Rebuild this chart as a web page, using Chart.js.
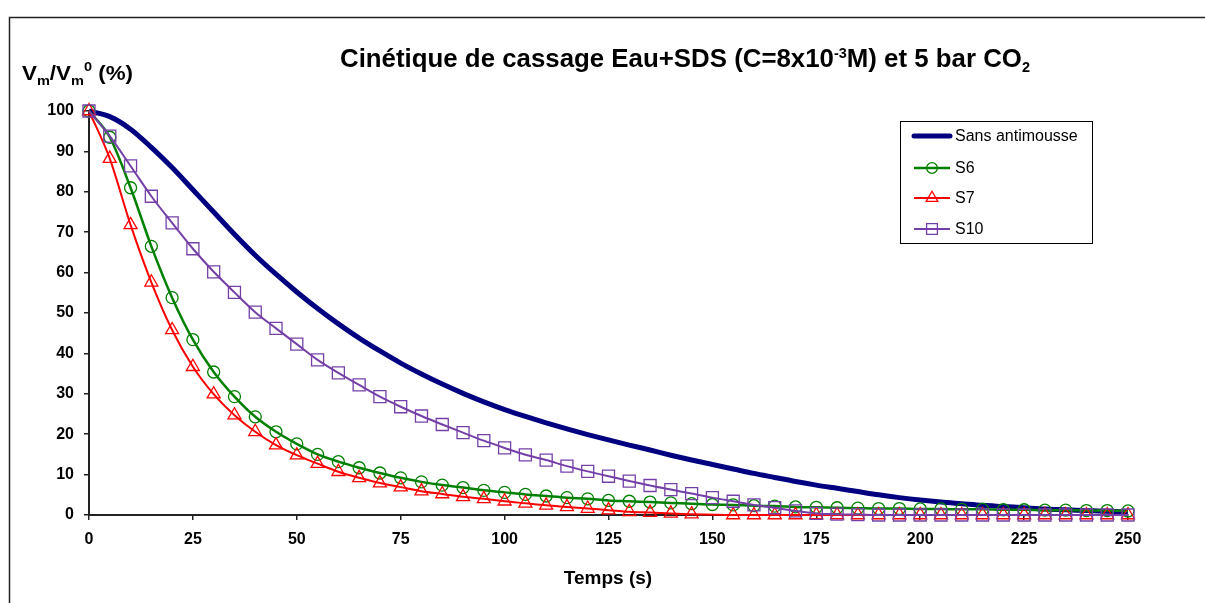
<!DOCTYPE html>
<html>
<head>
<meta charset="utf-8">
<script src="https://cdn.jsdelivr.net/npm/chart.js@4.4.1/dist/chart.umd.min.js"></script>
<style>
  html, body { margin: 0; padding: 0; background: #fff; }
  #wrap { width: 1205px; height: 603px; }
</style>
</head>
<body>
<div id="wrap"><canvas id="chart" width="1205" height="603"></canvas></div>
<script>
// Time (s)
const times = [0, 5, 10, 15, 20, 25, 30, 35, 40, 45, 50, 55, 60, 65, 70, 75, 80, 85, 90, 95,
    100, 105, 110, 115, 120, 125, 130, 135, 140, 145, 150, 155, 160, 165, 170, 175, 180, 185, 190, 195,
    200, 205, 210, 215, 220, 225, 230, 235, 240, 245, 250];

// Vm/Vm0 (%) per series
const sansAntimousse = [100, 98.6, 95.5, 91, 86, 80.5, 75, 69.5, 64.3, 59.6, 55.2, 51.1, 47.3, 43.8, 40.6, 37.6, 34.9, 32.4, 30.1, 28.0,
    26.1, 24.4, 22.8, 21.3, 19.9, 18.6, 17.3, 16.1, 14.8, 13.6, 12.5, 11.4, 10.3, 9.3, 8.3, 7.4, 6.6, 5.8, 5.0, 4.3,
    3.7, 3.2, 2.8, 2.4, 2.1, 1.8, 1.5, 1.3, 1.1, 0.9, 0.8];
const s6 = [100, 93.5, 81, 66.5, 53.8, 43.4, 35.4, 29.3, 24.3, 20.6, 17.6, 15.0, 13.2, 11.7, 10.4, 9.2, 8.2, 7.4, 6.8, 6.1,
    5.6, 5.1, 4.7, 4.3, 4.0, 3.6, 3.4, 3.2, 3.0, 2.8, 2.6, 2.5, 2.3, 2.2, 2.0, 1.9, 1.8, 1.7, 1.6, 1.6,
    1.5, 1.5, 1.4, 1.4, 1.3, 1.3, 1.2, 1.2, 1.1, 1.1, 1.0];
const s7 = [100, 88.2, 71.8, 57.6, 45.8, 36.7, 29.9, 24.7, 20.6, 17.3, 14.8, 12.7, 10.7, 9.2, 7.9, 6.9, 5.9, 5.2, 4.5, 4.0,
    3.4, 2.9, 2.4, 2.0, 1.6, 1.2, 0.8, 0.6, 0.4, 0.2, null, 0, 0, 0, 0, 0, 0, 0, 0, 0,
    0, 0, 0, 0, 0, 0, 0, 0, 0, 0, 0];
const s10 = [100, 93.8, 86.4, 78.9, 72.3, 65.9, 60.2, 55.1, 50.2, 46.2, 42.3, 38.4, 35.2, 32.2, 29.3, 26.8, 24.5, 22.4, 20.4, 18.4,
    16.6, 14.9, 13.6, 12.1, 10.8, 9.6, 8.4, 7.3, 6.3, 5.3, 4.3, 3.4, 2.5, 1.8, 1.0, 0.4, 0.2, 0.1, 0, 0,
    0, 0, 0, 0, 0, 0, 0, 0, 0, 0, 0];

const seriesNames = ['Sans antimousse', 'S6', 'S7', 'S10'];
const xTicks = { min: 0, max: 250, step: 25 };
const yTicks = { min: 0, max: 100, step: 10 };

function toPoints(values) {
    return times.map((t, i) => ({ x: t, y: values[i] }));
}

const NAVY = '#000080';
const GREEN = '#008000';
const RED = '#ff0000';
const PURPLE = '#7440a8';
const FONT = '"Liberation Sans", Arial, sans-serif';

// Title, axis labels, legend and frame drawn by hand (sub/superscripts)
function drawRich(ctx, parts, x, baseline, targetWidth) {
    let total = 0;
    parts.forEach(p => {
        ctx.font = p.font;
        total += ctx.measureText(p.text).width;
    });
    const sx = targetWidth ? targetWidth / total : 1;
    ctx.save();
    ctx.translate(x, baseline);
    ctx.scale(sx, 1);
    let cx = 0;
    parts.forEach(p => {
        ctx.font = p.font;
        ctx.fillText(p.text, cx, p.dy || 0);
        cx += ctx.measureText(p.text).width;
    });
    ctx.restore();
}

function drawMarker(ctx, style, x, y, r) {
    ctx.beginPath();
    if (style === 'circle') {
        ctx.arc(x, y, r, 0, Math.PI * 2);
    } else if (style === 'triangle') {
        ctx.moveTo(x, y - r);
        ctx.lineTo(x + r * 0.87, y + r * 0.5);
        ctx.lineTo(x - r * 0.87, y + r * 0.5);
        ctx.closePath();
    } else {
        const s = r * Math.SQRT1_2;
        ctx.rect(x - s, y - s, 2 * s, 2 * s);
    }
    ctx.stroke();
}

const decorPlugin = {
    id: 'decor',
    beforeDraw(chart) {
        const ctx = chart.ctx;
        ctx.save();
        ctx.fillStyle = '#fff';
        ctx.fillRect(0, 0, chart.width, chart.height);
        ctx.strokeStyle = '#222';
        ctx.lineWidth = 1.5;
        ctx.strokeRect(9.5, 17.5, 1400, 800);
        ctx.restore();
    },
    afterDraw(chart) {
        const ctx = chart.ctx;
        ctx.save();
        ctx.fillStyle = '#000';
        ctx.textBaseline = 'alphabetic';
        ctx.textAlign = 'left';

        // Title
        drawRich(ctx, [
            { text: 'Cinétique de cassage Eau+SDS (C=8x10', font: 'bold 25px ' + FONT },
            { text: '-3', font: 'bold 14px ' + FONT, dy: -9 },
            { text: 'M) et 5 bar CO', font: 'bold 25px ' + FONT },
            { text: '2', font: 'bold 14px ' + FONT, dy: 5 }
        ], 340, 67, 690);

        // Y axis label
        drawRich(ctx, [
            { text: 'V', font: 'bold 20px ' + FONT },
            { text: 'm', font: 'bold 13px ' + FONT, dy: 5 },
            { text: '/V', font: 'bold 20px ' + FONT },
            { text: 'm', font: 'bold 13px ' + FONT, dy: 5 },
            { text: '0', font: 'bold 13px ' + FONT, dy: -9 },
            { text: ' (%)', font: 'bold 20px ' + FONT }
        ], 22, 80, 111);

        // X axis title
        ctx.font = 'bold 19px ' + FONT;
        ctx.textAlign = 'center';
        ctx.fillText('Temps (s)', 608, 584);

        // Legend
        const box = { x: 900.5, y: 121.5, w: 192, h: 122 };
        ctx.fillStyle = '#fff';
        ctx.fillRect(box.x, box.y, box.w, box.h);
        ctx.strokeStyle = '#000';
        ctx.lineWidth = 1;
        ctx.strokeRect(box.x, box.y, box.w, box.h);
        const rows = [136, 168, 198, 229];
        const legendOrder = [3, 2, 1, 0]; // dataset index for each name
        ctx.textAlign = 'left';
        ctx.textBaseline = 'middle';
        seriesNames.forEach((name, i) => {
            const ds = chart.data.datasets[legendOrder[i]];
            const y = rows[i];
            ctx.strokeStyle = ds.borderColor;
            ctx.lineWidth = ds.borderWidth;
            ctx.lineCap = i === 0 ? 'round' : 'butt';
            ctx.beginPath();
            ctx.moveTo(914, y);
            ctx.lineTo(950, y);
            ctx.stroke();
            if (ds.pointRadius > 0) {
                ctx.lineWidth = ds.pointBorderWidth;
                ctx.strokeStyle = ds.pointBorderColor;
                drawMarker(ctx, ds.pointStyle, 932, y, ds.pointRadius * 0.9);
            }
            ctx.fillStyle = '#000';
            ctx.font = '16px ' + FONT;
            ctx.fillText(name, 955, y + 1);
        });
        ctx.restore();
    }
};

const ctx = document.getElementById('chart').getContext('2d');
new Chart(ctx, {
    type: 'line',
    data: {
        datasets: [
            {
                label: seriesNames[3],
                data: toPoints(s10),
                borderColor: PURPLE,
                borderWidth: 2,
                pointStyle: 'rect',
                pointRadius: 8.5,
                pointBorderWidth: 1.3,
                pointBorderColor: PURPLE,
                pointBackgroundColor: 'rgba(0,0,0,0)',
                cubicInterpolationMode: 'monotone',
                clip: false
            },
            {
                label: seriesNames[2],
                data: toPoints(s7),
                borderColor: RED,
                borderWidth: 2,
                pointStyle: 'triangle',
                pointRadius: 7.5,
                pointBorderWidth: 1.3,
                pointBorderColor: RED,
                pointBackgroundColor: 'rgba(0,0,0,0)',
                cubicInterpolationMode: 'monotone',
                spanGaps: true,
                clip: false
            },
            {
                label: seriesNames[1],
                data: toPoints(s6),
                borderColor: GREEN,
                borderWidth: 2.5,
                pointStyle: 'circle',
                pointRadius: 6,
                pointBorderWidth: 1.3,
                pointBorderColor: GREEN,
                pointBackgroundColor: 'rgba(0,0,0,0)',
                cubicInterpolationMode: 'monotone',
                clip: false
            },
            {
                label: seriesNames[0],
                data: toPoints(sansAntimousse),
                borderColor: NAVY,
                borderWidth: 5,
                pointRadius: 0,
                cubicInterpolationMode: 'monotone',
                clip: false
            }
        ]
    },
    options: {
        responsive: false,
        animation: false,
        devicePixelRatio: 1,
        layout: { padding: { left: 30, top: 111, right: 77, bottom: 0 } },
        plugins: {
            legend: { display: false },
            tooltip: { enabled: false },
            title: { display: false }
        },
        scales: {
            x: {
                type: 'linear',
                min: xTicks.min,
                max: xTicks.max,
                afterFit(scale) { scale.height = 88; },
                ticks: {
                    stepSize: xTicks.step,
                    color: '#000',
                    padding: 10,
                    maxRotation: 0,
                    font: { family: FONT, size: 16, weight: 'bold' }
                },
                grid: { drawOnChartArea: false, drawTicks: true, tickLength: 5, color: '#222', lineWidth: 1.5 },
                border: { color: '#222', width: 2 }
            },
            y: {
                min: yTicks.min,
                max: yTicks.max,
                afterFit(scale) { scale.width = 59; },
                ticks: {
                    stepSize: yTicks.step,
                    color: '#000',
                    padding: 10,
                    font: { family: FONT, size: 16, weight: 'bold' }
                },
                grid: { drawOnChartArea: false, drawTicks: true, tickLength: 5, color: '#222', lineWidth: 1.5 },
                border: { color: '#222', width: 2 }
            }
        }
    },
    plugins: [decorPlugin]
});
</script>
</body>
</html>
